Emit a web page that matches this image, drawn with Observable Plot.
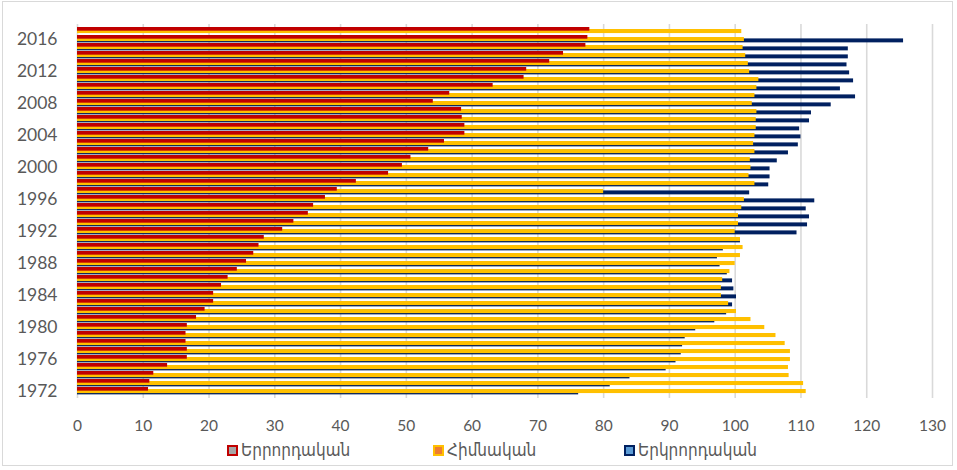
<!DOCTYPE html>
<html>
<head>
<meta charset="utf-8">
<script src="https://cdn.jsdelivr.net/npm/d3@7"></script>
<script src="https://cdn.jsdelivr.net/npm/@observablehq/plot@0.6"></script>
<style>
  html, body { margin: 0; padding: 0; background: #fff; }
  #wrap { position: relative; width: 957px; height: 470px; overflow: hidden; }
  #frame { position: absolute; left: 2px; top: 1px; width: 951px; height: 465px; border: 1.5px solid #d9d9d9; box-sizing: border-box; pointer-events: none; }
  #chart { position: absolute; left: 0; top: 0; }
  .leg { position: absolute; top: 440px; height: 20px; display: flex; align-items: center; font-family: "DejaVu Sans Condensed", "DejaVu Sans", sans-serif; font-size: 17px; color: #595959; white-space: nowrap; }
  .sw { display: inline-block; width: 7px; height: 7px; border: 2px solid; margin-right: 3px; }
</style>
</head>
<body>
<div id="wrap">
  <div id="chart"></div>
  <div class="leg" style="left:227px"><span class="sw" style="border-color:#c00000;background:#a6a6a6"></span>Երրորդական</div>
  <div class="leg" style="left:433px"><span class="sw" style="border-color:#ffc000;background:#ed7d31"></span>Հիմնական</div>
  <div class="leg" style="left:624px"><span class="sw" style="border-color:#002060;background:#5b9bd5"></span>Երկրորդական</div>
  <div id="frame"></div>
</div>
<script>
const years = [1972,1973,1974,1975,1976,1977,1978,1979,1980,1981,1982,1983,1984,1985,1986,1987,1988,1989,1990,1991,1992,1993,1994,1995,1996,1997,1998,1999,2000,2001,2002,2003,2004,2005,2006,2007,2008,2009,2010,2011,2012,2013,2014,2015,2016,2017];
const tertiary = [10.8,11.0,11.6,13.7,16.7,16.7,16.5,16.5,16.7,18.1,19.4,20.7,20.7,21.9,22.9,24.3,25.7,26.8,27.6,28.4,31.2,32.9,35.1,35.9,37.7,39.5,42.4,47.3,49.4,50.7,53.4,55.8,58.9,58.9,58.5,58.4,54.1,56.6,63.2,67.9,68.3,71.8,73.9,77.3,77.6,77.9];
const primary = [110.8,110.4,108.2,108.1,108.4,108.4,107.6,106.2,104.5,102.4,100.2,99.0,97.9,97.9,98.1,99.2,100.0,100.8,101.2,100.8,100.0,100.5,100.5,101.0,101.4,80.0,103.0,102.1,102.4,102.3,103.0,102.8,103.0,103.2,103.2,103.3,102.6,103.0,103.3,103.6,102.2,102.0,101.6,101.2,101.4,101.0];
const secondary = [76.2,81.0,84.0,89.5,91.0,91.8,92.0,92.4,94.0,96.9,98.7,99.6,100.2,99.8,99.6,98.8,97.7,97.3,98.2,100.8,109.4,111.0,111.3,110.8,112.1,102.2,105.1,105.3,105.3,106.4,108.1,109.6,110.0,109.8,111.3,111.6,114.6,118.3,116.0,118.0,117.4,117.0,117.2,117.2,125.6,null];
const xTicks = [0,10,20,30,40,50,60,70,80,90,100,110,120,130];
const yTicks = [1972,1976,1980,1984,1988,1992,1996,2000,2004,2008,2012,2016];

const rows = years.map((y, i) => ({year: y, tertiary: tertiary[i], primary: primary[i], secondary: secondary[i]}));

const H = 440, MT = 24, MB = 42;
const band = (H - MT - MB) / years.length;

const chart = Plot.plot({
  width: 957,
  height: H,
  marginLeft: 77,
  marginRight: 25,
  marginTop: MT,
  marginBottom: MB,
  style: {background: "transparent", color: "#595959"},
  x: {domain: [0, 130]},
  y: {type: "band", domain: years.slice().reverse(), padding: 0},
  marks: [
    Plot.gridX(xTicks, {stroke: "#d9d9d9", strokeOpacity: 1, strokeWidth: 1.6}),
    Plot.barX(rows.filter(d => d.secondary != null), {x: "secondary", y: "year", fill: "#002060", insetTop: 3.4, insetBottom: band - 7.5}),
    Plot.barX(rows, {x: "primary", y: "year", fill: "#ffc000", insetTop: 2.0, insetBottom: band - 6.2}),
    Plot.barX(rows, {x: "tertiary", y: "year", fill: "#c00000", insetTop: 0, insetBottom: band - 3.8}),
    Plot.axisX({ticks: xTicks, tickSize: 0, tickPadding: 21, label: null, tickFormat: d => String(d), fontSize: 15.5, fontFamily: "Lato, sans-serif", fill: "#595959"}),
    Plot.axisY({ticks: yTicks, tickSize: 0, tickPadding: 20, label: null, tickFormat: d => String(d), fontSize: 17.5, fontFamily: "Lato, sans-serif", fill: "#595959"})
  ]
});
document.getElementById("chart").appendChild(chart);
</script>
</body>
</html>
